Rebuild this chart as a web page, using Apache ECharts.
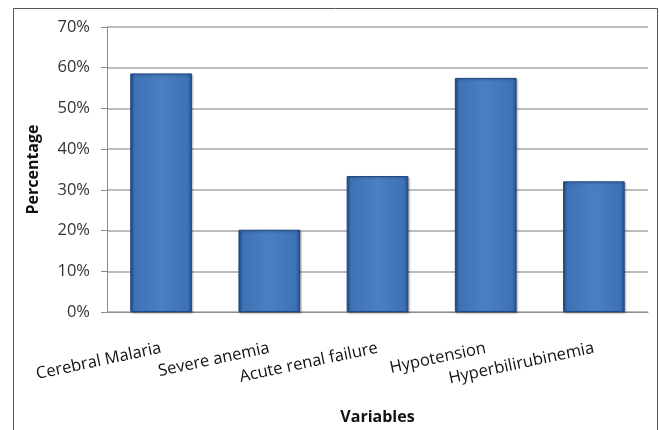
<!DOCTYPE html>
<html>
<head>
<meta charset="utf-8">
<style>
  html, body { margin: 0; padding: 0; background: #ffffff; }
  #chart { width: 659px; height: 430px; }
</style>
<script src="https://cdn.jsdelivr.net/npm/echarts@6/dist/echarts.min.js"></script>
</head>
<body>
<div id="chart"></div>
<script>
// Complications observed, share of patients (%)
const categories = ['Cerebral Malaria', 'Severe anemia', 'Acute renal failure', 'Hypotension', 'Hyperbilirubinemia'];
const percentages = [58.6, 20.2, 33.4, 57.5, 32.1];
const yTicks = { min: 0, max: 70, interval: 10 };

const font = "'Open Sans', 'Noto Sans', sans-serif";

const barFill = new echarts.graphic.LinearGradient(0, 0, 1, 0, [
  { offset: 0, color: '#24508c' },
  { offset: 0.07, color: '#3d72b6' },
  { offset: 0.5, color: '#4a7fc2' },
  { offset: 0.93, color: '#3d72b6' },
  { offset: 1, color: '#24508c' }
]);

const chart = echarts.init(document.getElementById('chart'));
chart.setOption({
  animation: false,
  backgroundColor: '#ffffff',
  graphic: [{
    type: 'rect',
    shape: { x: 13.5, y: 8.5, width: 644, height: 440 },
    style: { fill: 'none', stroke: '#555555', lineWidth: 1 },
    silent: true
  }],
  grid: { left: 107, right: 11, top: 27, bottom: 117 },
  xAxis: {
    type: 'category',
    data: categories,
    name: 'Variables',
    nameLocation: 'middle',
    nameGap: 97,
    nameTextStyle: { fontFamily: font, fontSize: 16, fontWeight: 'bold', color: '#111111' },
    axisLine: { lineStyle: { color: '#8c8c8c', width: 1 } },
    axisTick: { show: false },
    axisLabel: {
      rotate: 12,
      margin: 36,
      interval: 0,
      fontFamily: font,
      fontSize: 16.5,
      color: '#111111'
    }
  },
  yAxis: {
    type: 'value',
    min: yTicks.min,
    max: yTicks.max,
    interval: yTicks.interval,
    name: 'Percentage',
    nameLocation: 'middle',
    nameGap: 66,
    nameRotate: 90,
    nameTextStyle: { fontFamily: font, fontSize: 16, fontWeight: 'bold', color: '#111111' },
    axisLine: { show: true, lineStyle: { color: '#8c8c8c', width: 1 } },
    axisTick: { show: true, length: 6, inside: false, lineStyle: { color: '#8c8c8c' } },
    axisLabel: {
      formatter: v => v + '%',
      fontFamily: font,
      fontSize: 16.5,
      color: '#333333',
      margin: 17
    },
    splitLine: { lineStyle: { color: '#a6a6a6', width: 1.5 } }
  },
  series: [{
    type: 'bar',
    data: percentages,
    barWidth: '57%',
    itemStyle: {
      color: barFill,
      borderColor: '#1f4a85',
      borderWidth: 1,
      shadowColor: 'rgba(0,0,0,0.3)',
      shadowBlur: 2,
      shadowOffsetX: 1,
      shadowOffsetY: 1
    }
  }]
});
</script>
</body>
</html>
